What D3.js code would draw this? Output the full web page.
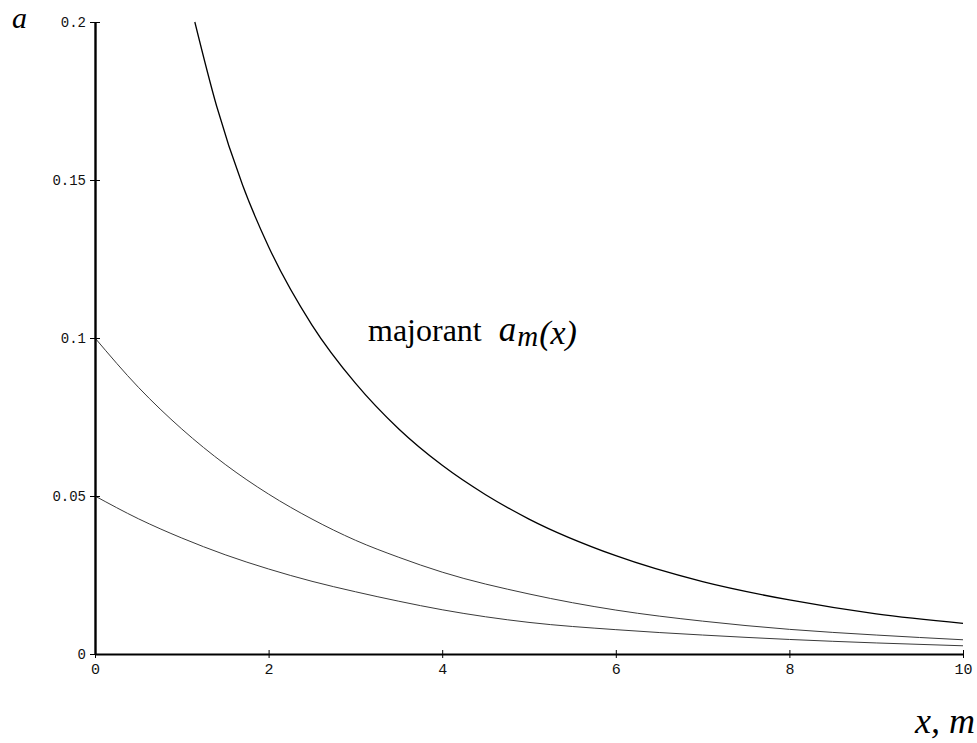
<!DOCTYPE html>
<html>
<head>
<meta charset="utf-8">
<script src="https://cdn.jsdelivr.net/npm/d3@7"></script>
<style>
  html, body { margin: 0; padding: 0; background: #fff; }
  svg { display: block; }
</style>
</head>
<body>
<svg id="chart" width="977" height="743"></svg>
<script>
// ---- data ----
const xTicks = [0, 2, 4, 6, 8, 10];
const xTickLabels = ["0", "2", "4", "6", "8", "10"];
const yTicks = [0, 0.05, 0.1, 0.15, 0.2];
const yTickLabels = ["0", "0.05", "0.1", "0.15", "0.2"];

const majorantX = [1.15, 1.4, 1.7, 2, 2.5, 3, 3.5, 4, 4.5, 5, 6, 7, 8, 9, 10];
const majorantY = [0.2, 0.1735, 0.1484, 0.1289, 0.1041, 0.0857, 0.0712, 0.0597, 0.0504, 0.0427, 0.0311, 0.0229, 0.0171, 0.0127, 0.0097];

const middleX = [0, 0.5, 1, 1.5, 2, 2.5, 3, 3.5, 4, 5, 6, 7, 8, 9, 10];
const middleY = [0.1, 0.0844, 0.0712, 0.06, 0.0506, 0.0427, 0.036, 0.0306, 0.0259, 0.019, 0.0139, 0.0104, 0.0078, 0.006, 0.0045];

const lowerX = [0, 0.5, 1, 1.5, 2, 2.5, 3, 3.5, 4, 5, 6, 7, 8, 9, 10];
const lowerY = [0.05, 0.0428, 0.0367, 0.0314, 0.0269, 0.023, 0.0197, 0.0167, 0.014, 0.01, 0.0077, 0.006, 0.0046, 0.0035, 0.0026];

// ---- layout ----
const svg = d3.select("#chart");
const x = d3.scaleLinear().domain([0, 10]).range([95, 963]);
const y = d3.scaleLinear().domain([0, 0.2]).range([654, 22]);

const line = d3.line()
  .x(d => x(d[0]))
  .y(d => y(d[1]))
  .curve(d3.curveMonotoneX);

const zip = (xs, ys) => xs.map((v, i) => [v, ys[i]]);

// curves
svg.append("path").datum(zip(lowerX, lowerY))
  .attr("d", line).attr("fill", "none")
  .attr("stroke", "#3a3a3a").attr("stroke-width", 1);
svg.append("path").datum(zip(middleX, middleY))
  .attr("d", line).attr("fill", "none")
  .attr("stroke", "#3a3a3a").attr("stroke-width", 1);
svg.append("path").datum(zip(majorantX, majorantY))
  .attr("d", line).attr("fill", "none")
  .attr("stroke", "#000").attr("stroke-width", 1.3);

// x axis
const xAxis = d3.axisBottom(x)
  .tickValues(xTicks)
  .tickFormat((d, i) => xTickLabels[i])
  .tickSizeInner(4).tickSizeOuter(0).tickPadding(5);
const gx = svg.append("g").attr("transform", `translate(0,${y(0)})`).call(xAxis);
gx.select(".domain").attr("stroke", "#000").attr("stroke-width", 2.2);
gx.selectAll(".tick line").attr("y1", -4).attr("stroke-width", 1);
gx.selectAll(".tick text")
  .attr("font-family", "'Liberation Mono', 'DejaVu Sans Mono', monospace")
  .attr("font-size", 15).attr("fill", "#111");

// y axis
const yAxis = d3.axisLeft(y)
  .tickValues(yTicks)
  .tickFormat((d, i) => yTickLabels[i])
  .tickSizeInner(5).tickSizeOuter(0).tickPadding(4);
const gy = svg.append("g").attr("transform", `translate(${x(0)},0)`).call(yAxis);
gy.select(".domain").attr("stroke", "#000").attr("stroke-width", 2.4);
gy.selectAll(".tick line").attr("x2", 5).attr("x1", -5).attr("stroke-width", 1);
gy.selectAll(".tick text")
  .attr("font-family", "'Liberation Mono', 'DejaVu Sans Mono', monospace")
  .attr("font-size", 14).attr("fill", "#111");

// axis titles
svg.append("text").attr("x", 12).attr("y", 28)
  .attr("font-family", "'Liberation Serif', serif").attr("font-style", "italic")
  .attr("font-size", 30).text("a");

svg.append("text").attr("x", 975).attr("y", 733).attr("text-anchor", "end")
  .attr("font-family", "'Liberation Serif', serif").attr("font-style", "italic")
  .attr("font-size", 36).text("x, m");

// curve label
const lab = svg.append("text").attr("x", 368).attr("y", 341)
  .attr("font-family", "'Liberation Serif', serif").attr("font-size", 32);
lab.append("tspan").text("majorant");
lab.append("tspan").attr("dx", 17).attr("font-style", "italic").attr("font-size", 35).text("a");
lab.append("tspan").attr("font-style", "italic").attr("font-size", 29).attr("dy", 5).attr("dx", 1).text("m");
lab.append("tspan").attr("font-style", "italic").attr("font-size", 34).attr("dy", -2).attr("dx", 1).text("(x)");
</script>
</body>
</html>
